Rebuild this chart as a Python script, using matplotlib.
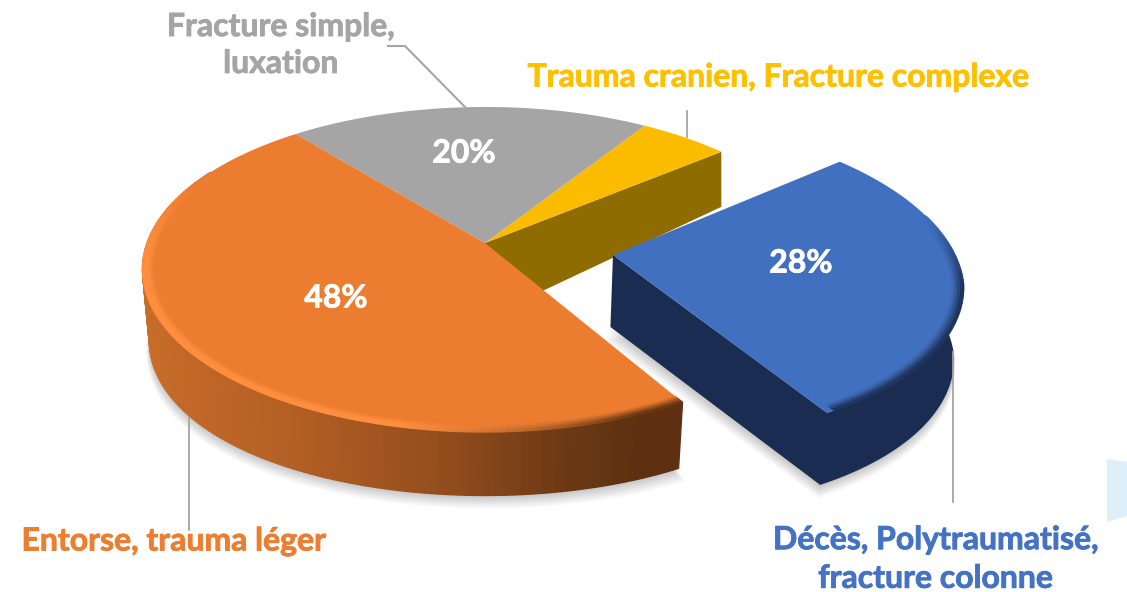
import numpy as np
import matplotlib
matplotlib.use("Agg")
import matplotlib.pyplot as plt
import matplotlib.patheffects as pe
from matplotlib.collections import PolyCollection
from matplotlib.colors import to_rgb

# ---- data ----
categories = ["Décès, Polytraumatisé,\nfracture colonne", "Entorse, trauma léger",
              "Fracture simple,\nluxation", "Trauma cranien, Fracture complexe"]
values = [27.6, 47.5, 19.9, 5.0]
pct_labels = ["28%", "48%", "20%", None]
top_colors = ["#4270C0", "#EC7C30", "#A5A5A5", "#FBBC00"]

# ---- projection of the tilted disc ----
W, H = 1127, 592
CX, CY, A, B, K = 485.0, 243.0, 338.0, 158.2, 0.163
START = 50.5
BLUE_OFFSET = (0.374, -0.075)


def project(X, Y):
    w = 1 + K * Y
    return CX + A * X / w, CY - B * Y / w


def arc(t, r=1.0, off=(0, 0)):
    t_arr = np.asarray(t, dtype=float)
    if off != (0, 0):
        r = r * (1 - 0.03 * np.clip((t_arr - 100) / 50, 0, 1))
    a = np.radians(t_arr)
    return project(off[0] + r * np.sin(a), off[1] + r * np.cos(a))


def depth(Y):
    return 68.6 - 11.3 * Y - 16.4 * Y ** 2


def drop(px, py, h):
    return px - (px - CX) * 0.02, py + h


def mix(c1, c2, f):
    c1, c2 = np.array(to_rgb(c1)), np.array(to_rgb(c2))
    return tuple(c1 + (c2 - c1) * np.clip(f, 0, 1))


extents = np.array(values) / sum(values) * 360
starts = START + np.concatenate([[0], np.cumsum(extents)[:-1]])
ends = starts + extents
blue, orange, gray, yellow = range(4)

fig = plt.figure(figsize=(W / 100, H / 100), dpi=100)
ax = fig.add_axes([0, 0, 1, 1])
ax.set_xlim(0, W)
ax.set_ylim(H, 0)
ax.axis("off")

# pale fragment on the right edge
ax.fill([1107, 1127, 1127, 1107], [459, 462, 516, 522], color="#DDF0FA", lw=0, zorder=0)


def bottom_outline(t, off=(0, 0), fixed=None):
    px, py = arc(t, off=off)
    Y = off[1] + np.cos(np.radians(t))
    h = fixed if fixed is not None else depth(Y)
    return drop(px, py, h)


def shadow(xs, ys, zorder=1):
    xs, ys = np.asarray(xs), np.asarray(ys)
    mx = xs.mean()
    for i in range(1, 15):
        ax.fill(mx + (xs - mx) * (1 + i * 0.0012), ys + i * 0.95, color="black",
                alpha=0.016, lw=0, zorder=zorder)


def strips(quads, cols, zorder):
    ax.add_collection(PolyCollection(quads, facecolors=cols, edgecolors=cols,
                                     linewidths=0.9, zorder=zorder))


# shadows
t = np.linspace(starts[orange], starts[orange] + 135, 120)
sx, sy = bottom_outline(t)
shadow(np.r_[sx, CX], np.r_[sy, CY + 60])
t = np.linspace(85, ends[blue], 80)
sx, sy = bottom_outline(t, BLUE_OFFSET, 72)
ax_x, ax_y = project(*BLUE_OFFSET)
bx, by = drop(ax_x, ax_y, 72)
shadow(np.r_[sx, bx], np.r_[sy, by])

# yellow slice: cut face, then top
cx_, cy_ = arc(ends[yellow])
ax.fill([CX, cx_, cx_, CX], [CY, cy_, cy_ + 55, CY + 75],
        color="#8E6C00", lw=0, zorder=2)
for i in (yellow, gray):
    t = np.linspace(starts[i], ends[i], 60)
    px, py = arc(t)
    ax.fill(np.r_[CX, px], np.r_[CY, py], color=top_colors[i], lw=0, zorder=3)

# orange wall, shaded along x
wall_stops_x = [145, 300, 450, 560, 640, 690]
wall_stops_c = ["#C76C29", "#B25E24", "#914C1C", "#6E3A15", "#5E3011", "#5E3011"]
wall_rgb = np.array([to_rgb(c) for c in wall_stops_c])


def wall_col(x):
    return tuple(np.interp(x, wall_stops_x, wall_rgb[:, j]) for j in range(3))


tt = np.arange(starts[orange], starts[orange] + 150, 1.0)
quads, cols = [], []
for t0, t1 in zip(tt[:-1], tt[1:]):
    x0, y0 = arc(t0)
    x1, y1 = arc(t1)
    x2, y2 = bottom_outline(t1)
    x3, y3 = bottom_outline(t0)
    quads.append([(x0, y0), (x1, y1), (x2, y2), (x3, y3)])
    cols.append(wall_col((x0 + x1) / 2))
strips(quads, cols, 4)

# orange top
t = np.linspace(starts[orange], ends[orange], 200)
px, py = arc(t)
ax.fill(np.r_[CX, px], np.r_[CY, py], color=top_colors[orange], lw=0, zorder=5)

# orange rim: light along the left and front, dark blend near the cut
radii = np.linspace(0.968, 1.0, 6)
quads, cols = [], []
tt = np.arange(starts[orange], starts[orange] + 146, 1.0)
for r0, r1 in zip(radii[:-1], radii[1:]):
    f = ((r0 + r1) / 2 - radii[0]) / (radii[-1] - radii[0])
    for t0, t1 in zip(tt[:-1], tt[1:]):
        tm = (t0 + t1) / 2
        x0, y0 = arc(t0, r0)
        x1, y1 = arc(t1, r0)
        x2, y2 = arc(t1, r1)
        x3, y3 = arc(t0, r1)
        light = mix(top_colors[orange], "#FF8E3E", min(1, f * 1.8))
        dark = mix(top_colors[orange], wall_col((x0 + x1) / 2), f)
        g = np.clip((tm - starts[orange] - 8) / 35, 0, 1)
        c = mix(dark, light, g)
        fade = np.clip((starts[orange] + 146 - tm) / 30, 0, 1)
        c = mix(top_colors[orange], c, fade)
        quads.append([(x0, y0), (x1, y1), (x2, y2), (x3, y3)])
        cols.append(c)
strips(quads, cols, 6)

# blue slice
NAVY = "#1A2C52"
t = np.linspace(80, ends[blue], 80)
x0, y0 = arc(t, off=BLUE_OFFSET)
x1, y1 = bottom_outline(t, BLUE_OFFSET, 72)
ax.fill(np.r_[x0, ax_x, bx, x1[::-1]], np.r_[y0, ax_y, by, y1[::-1]], color=NAVY, lw=0, zorder=7)
t = np.linspace(starts[blue], ends[blue], 120)
px, py = arc(t, off=BLUE_OFFSET)
ax.fill(np.r_[ax_x, px], np.r_[ax_y, py], color=top_colors[blue], lw=0, zorder=8)
radii = np.linspace(0.968, 1.0, 5)
quads, cols = [], []
tt = np.arange(starts[blue] + 25, ends[blue] - 0.5, 1.0)
for r0, r1 in zip(radii[:-1], radii[1:]):
    f = ((r0 + r1) / 2 - radii[0]) / (radii[-1] - radii[0])
    for t0, t1 in zip(tt[:-1], tt[1:]):
        g = np.clip((t0 - starts[blue] - 25) / 25, 0, 1)
        c = mix(top_colors[blue], NAVY, f * g)
        x0, y0 = arc(t0, r0, BLUE_OFFSET)
        x1, y1 = arc(t1, r0, BLUE_OFFSET)
        x2, y2 = arc(t1, r1, BLUE_OFFSET)
        x3, y3 = arc(t0, r1, BLUE_OFFSET)
        quads.append([(x0, y0), (x1, y1), (x2, y2), (x3, y3)])
        cols.append(c)
strips(quads, cols, 9)

# leader lines
LEAD = "#A5A5A5"
ax.plot([388, 405, 465], [46, 46, 107], color=LEAD, lw=1.5, zorder=10)
ax.plot([687, 687], [111, 137], color=LEAD, lw=1.3, zorder=2)
ax.plot([953, 953], [352, 502], color=LEAD, lw=1.3, zorder=10)
ax.plot([189, 189], [418, 530], color=LEAD, lw=1.3, zorder=10)

# text
FONT = "Lato"
SIZE = 23


def label(x, y, s, color, spacing=1.2):
    ax.text(x, y, s, color=color, family=FONT, weight="bold", size=SIZE, ha="center",
            va="center", linespacing=spacing, zorder=11,
            path_effects=[pe.withStroke(linewidth=0.6, foreground=color)])


label(174, 541, categories[orange], "#ED7D31")
label(936, 559, categories[blue], "#4472C4", 1.4)
label(281, 45, categories[gray], "#A5A5A5", 1.33)
label(779, 77, categories[yellow], "#FFC000")
pct_pos = [(801, 263), (336, 298), (464, 153)]
for lab, (x, y) in zip(pct_labels, pct_pos):
    label(x, y, lab, "white")

fig.savefig("out.png", dpi=100, facecolor="white")
